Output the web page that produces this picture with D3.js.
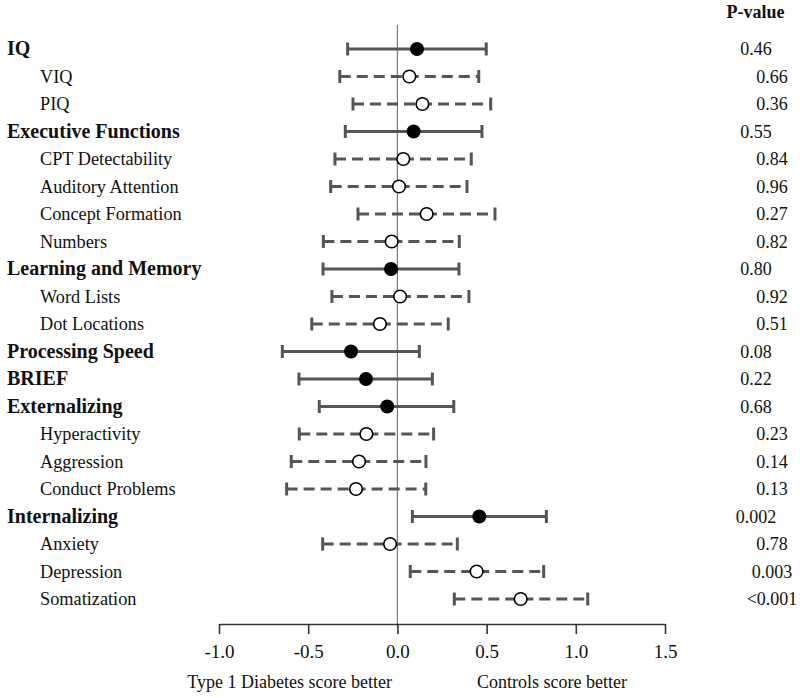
<!DOCTYPE html>
<html>
<head>
<meta charset="utf-8">
<script src="https://cdn.jsdelivr.net/npm/d3@7"></script>
<style>
  html, body { margin: 0; padding: 0; background: #fff; }
  svg { display: block; font-family: "Liberation Serif", "Times New Roman", serif; }
</style>
</head>
<body>
<svg id="chart" width="800" height="698"></svg>
<script>
const labels = ["IQ", "VIQ", "PIQ", "Executive Functions", "CPT Detectability", "Auditory Attention",
  "Concept Formation", "Numbers", "Learning and Memory", "Word Lists", "Dot Locations",
  "Processing Speed", "BRIEF", "Externalizing", "Hyperactivity", "Aggression", "Conduct Problems",
  "Internalizing", "Anxiety", "Depression", "Somatization"];
const isGroup = [true, false, false, true, false, false, false, false, true, false, false,
  true, true, true, false, false, false, true, false, false, false];
const estimate = [0.11, 0.067, 0.14, 0.091, 0.033, 0.009, 0.164, -0.032, -0.036, 0.015, -0.098,
  -0.26, -0.176, -0.057, -0.174, -0.215, -0.232, 0.459, -0.041, 0.444, 0.691];
const lower = [-0.279, -0.323, -0.249, -0.292, -0.35, -0.374, -0.221, -0.415, -0.417, -0.367, -0.48,
  -0.645, -0.552, -0.438, -0.55, -0.595, -0.621, 0.084, -0.419, 0.072, 0.319];
const upper = [0.498, 0.456, 0.523, 0.474, 0.414, 0.39, 0.547, 0.347, 0.345, 0.401, 0.285,
  0.123, 0.196, 0.316, 0.203, 0.16, 0.159, 0.835, 0.336, 0.82, 1.067];
const pValues = ["0.46", "0.66", "0.36", "0.55", "0.84", "0.96", "0.27", "0.82", "0.80", "0.92", "0.51",
  "0.08", "0.22", "0.68", "0.23", "0.14", "0.13", "0.002", "0.78", "0.003", "<0.001"];
const xTicks = [-1.0, -0.5, 0.0, 0.5, 1.0, 1.5];

const rows = labels.map((l, i) => ({label: l, group: isGroup[i], est: estimate[i], lo: lower[i], hi: upper[i], p: pValues[i], i}));

const svg = d3.select("#chart");
const x = d3.scaleLinear().domain([-1.0, 1.5]).range([219, 665]);
const y = d3.scalePoint().domain(d3.range(labels.length)).range([49, 599]);

svg.append("line")
  .attr("x1", x(0)).attr("x2", x(0))
  .attr("y1", 25).attr("y2", 624)
  .attr("stroke", "#7a7a7a").attr("stroke-width", 1.2);

const axis = d3.axisBottom(x).tickValues(xTicks).tickFormat(d3.format(".1f")).tickSize(10).tickSizeOuter(0);
const gAxis = svg.append("g").attr("transform", "translate(0,624)").call(axis);
gAxis.select(".domain").attr("stroke", "#333").attr("stroke-width", 1.6);
gAxis.selectAll(".tick line").attr("stroke", "#333").attr("stroke-width", 1.6);
gAxis.selectAll(".tick text")
  .attr("font-family", "Liberation Serif, serif")
  .attr("font-size", 19).attr("fill", "#111").attr("dy", 0).attr("y", 34)
  .text(d => d3.format(".1f")(d).replace("−", "-"));

const g = svg.append("g");
const bars = g.selectAll("g.row").data(rows).join("g").attr("class", "row");
bars.append("line")
  .attr("x1", d => x(d.lo)).attr("x2", d => x(d.hi))
  .attr("y1", d => y(d.i)).attr("y2", d => y(d.i))
  .attr("stroke", "#555").attr("stroke-width", 3)
  .attr("stroke-dasharray", d => d.group ? null : "11,6");
["lo", "hi"].forEach(k => {
  bars.append("line")
    .attr("x1", d => x(d[k])).attr("x2", d => x(d[k]))
    .attr("y1", d => y(d.i) - 6.5).attr("y2", d => y(d.i) + 6.5)
    .attr("stroke", "#555").attr("stroke-width", 3);
});
bars.append("circle")
  .attr("cx", d => x(d.est)).attr("cy", d => y(d.i))
  .attr("r", d => d.group ? 7 : 6.3)
  .attr("fill", d => d.group ? "#000" : "#fff")
  .attr("stroke", "#000").attr("stroke-width", d => d.group ? 0 : 1.6);

svg.append("g").selectAll("text").data(rows).join("text")
  .attr("x", d => d.group ? 7 : 40)
  .attr("y", d => y(d.i) + 6)
  .attr("font-family", "Liberation Serif, serif")
  .attr("font-size", d => d.group ? 20 : 18.3)
  .attr("font-weight", d => d.group ? "bold" : "normal")
  .attr("fill", "#111")
  .text(d => d.label);

svg.append("text").attr("x", 755.5).attr("y", 18).attr("text-anchor", "middle")
  .attr("font-family", "Liberation Serif, serif")
  .attr("font-size", 18).attr("font-weight", "bold").attr("fill", "#111").text("P-value");
svg.append("g").selectAll("text").data(rows).join("text")
  .attr("x", d => d.group ? 756 : 772)
  .attr("y", d => y(d.i) + 6)
  .attr("text-anchor", "middle")
  .attr("font-family", "Liberation Serif, serif")
  .attr("font-size", 18).attr("fill", "#111")
  .text(d => d.p);

svg.append("text").attr("x", 392).attr("y", 688).attr("text-anchor", "end")
  .attr("font-family", "Liberation Serif, serif")
  .attr("font-size", 18).attr("fill", "#111").text("Type 1 Diabetes score better");
svg.append("text").attr("x", 477).attr("y", 688).attr("text-anchor", "start")
  .attr("font-family", "Liberation Serif, serif")
  .attr("font-size", 18).attr("fill", "#111").text("Controls score better");
</script>
</body>
</html>
